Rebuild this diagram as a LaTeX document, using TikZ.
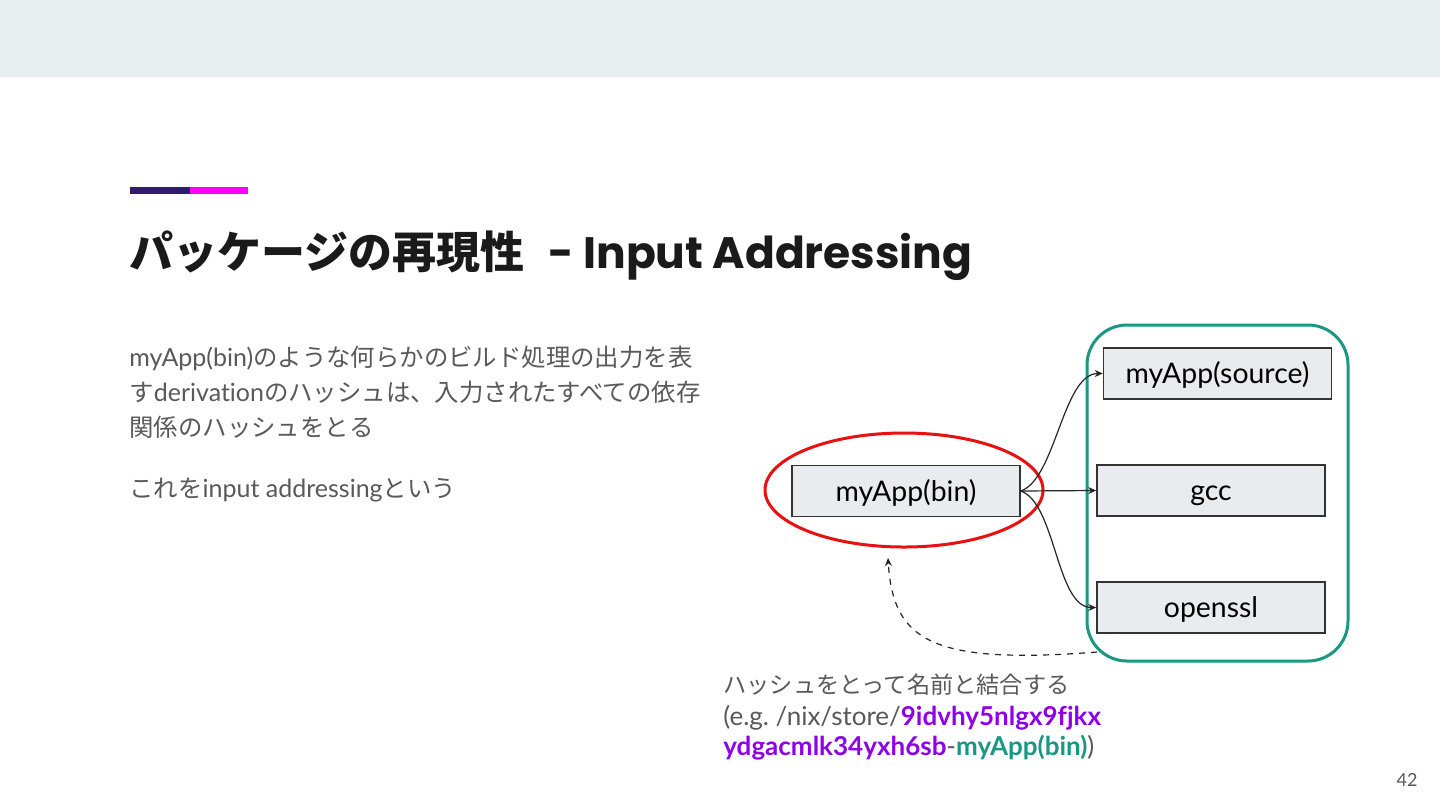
\documentclass[tikz,border=0pt]{standalone}
\usepackage{fontspec}
\setmainfont{Lato}[Ligatures=NoCommon]
\newfontfamily\jp{Noto Sans CJK JP}
\newfontfamily\titlefont{Poppins}
\usetikzlibrary{arrows.meta,shapes.geometric}
\definecolor{band}{HTML}{E8EFF1}
\definecolor{barA}{HTML}{311B6E}
\definecolor{barB}{HTML}{FF00FF}
\definecolor{bodygray}{HTML}{595959}
\definecolor{titleblack}{HTML}{1A1A1A}
\definecolor{tealc}{HTML}{1A9882}
\definecolor{redc}{HTML}{E81010}
\definecolor{hashc}{HTML}{9000E6}
\definecolor{boxfill}{HTML}{E8ECEE}
\definecolor{boxline}{HTML}{333333}
\newcommand\jpb{\jp\fontsize{12.2}{15}\selectfont}
\tikzset{
  txt/.style={anchor=base west, inner sep=0pt, text=bodygray, font=\fontsize{12.5}{15}\selectfont},
  captxt/.style={anchor=base west, inner sep=0pt, text=bodygray, font=\fontsize{13}{15}\selectfont},
  depbox/.style={draw=boxline, fill=boxfill, line width=0.75pt, minimum width=114pt, minimum height=25.5pt, inner sep=0pt, text height=12.5pt, text depth=2.5pt, font=\fontsize{14.2}{16}\selectfont, text=black},
  conn/.style={draw=black!85, line width=0.6pt, -{Stealth[length=4pt,width=3.5pt]}},
}
\begin{document}
\begin{tikzpicture}[x=0.5pt,y=-0.5pt]
\useasboundingbox (0,0) rectangle (1440,810);
\fill[white] (0,0) rectangle (1440,810);
\fill[band] (0,0) rectangle (1440,77);
\fill[barA] (130,187) rectangle (190,194);
\fill[barB] (190,187) rectangle (248,194);
% title
\node[anchor=base west, inner sep=0pt, text=titleblack] (title) at (129,268)
  {{\jp\bfseries\fontsize{22}{26}\selectfont パッケージの再現性}\hspace{12pt}{\titlefont\bfseries\fontsize{22}{28}\selectfont - Input Addressing}};
% body
\node[txt] (b1) at (129,366) {myApp(bin){\jpb のような何らかのビルド処理の出力を表}};
\node[txt] (b2) at (129,401) {{\jpb す}derivation{\jpb のハッシュは、入力されたすべての依存}};
\node[txt] (b3) at (129,436) {{\jpb 関係のハッシュをとる}};
\node[txt] (b4) at (129,497) {{\jpb これを}input addressing{\jpb という}};
% group
\node[draw=tealc, line width=1.5pt, rounded corners=20pt, minimum width=130.5pt, minimum height=168pt, inner sep=0pt] (group) at (1217.5,493) {};
\node[depbox] (source) at (1217.5,373.5) {myApp(source)};
\node[depbox] (gcc) at (1211,490.5) {gcc};
\node[depbox] (openssl) at (1211,607.5) {openssl};
\node[depbox] (bin) at (906,491) {myApp(bin)};
\node[draw=redc, line width=1.5pt, ellipse, minimum width=139pt, minimum height=57pt, inner sep=0pt] (redell) at (904,490) {};
% connectors
\draw[conn] (bin.east) .. controls +(35,-12) and +(-40,0) .. (source.west);
\draw[conn] (bin.east) -- (gcc.west);
\draw[conn] (bin.east) .. controls +(35,12) and +(-40,0) .. (openssl.west);
\coordinate (dstart) at (1097,652);
\coordinate (dend) at (888,558);
\draw[draw=black!85, line width=0.6pt, dashed, -{Stealth[length=4pt,width=3.5pt]}] (dstart) .. controls (930,665) and (893,640) .. (dend);
% caption
\node[captxt] (c1) at (723,693) {{\jp\fontsize{11.6}{15}\selectfont ハッシュをとって名前と結合する}};
\node[captxt] (c2) at (723,725) {(e.g.\ /nix/store/{\color{hashc}\bfseries 9idvhy5nlgx9fjkx}};
\node[captxt] (c3) at (723,755) {{\color{hashc}\bfseries ydgacmlk34yxh6sb}-{\color{tealc}\bfseries myApp(bin)})};
% page number
\node[anchor=base east, inner sep=0pt, text=bodygray, font=\fontsize{9}{11}\selectfont] (pnum) at (1418,786) {42};
\end{tikzpicture}
\end{document}
